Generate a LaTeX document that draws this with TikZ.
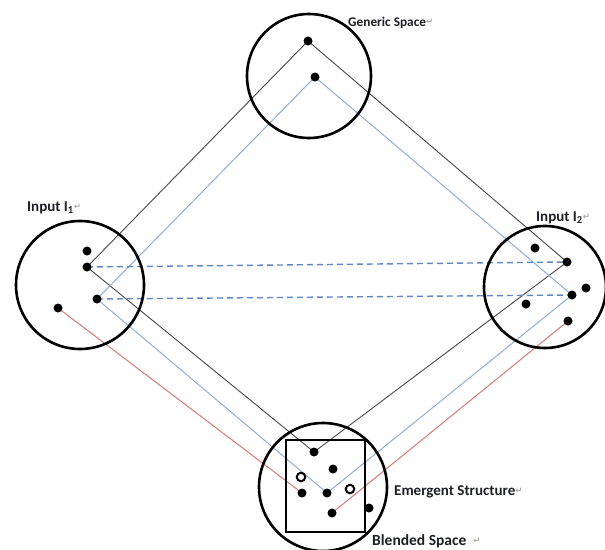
\documentclass[tikz,border=0pt]{standalone}
\usepackage{fontspec}
\setmainfont{Carlito}
\newfontfamily\symfont{DejaVu Sans}
\usetikzlibrary{backgrounds}
\definecolor{lineblk}{RGB}{70,70,70}
\definecolor{lineblue}{RGB}{140,175,215}
\definecolor{dashblue}{RGB}{95,135,195}
\definecolor{linered}{RGB}{215,120,115}
\definecolor{txt}{RGB}{30,30,40}
\newcommand{\pmark}{{\symfont\color{black!35}\fontsize{8.5}{8.5}\selectfont\raisebox{0.25ex}{↵}}}
\tikzset{
  bigcirc/.style={circle,draw=black,line width=2.6pt,inner sep=0pt,minimum size=#1},
  dot/.style={circle,fill=black,inner sep=0pt,minimum size=9pt},
  odot/.style={circle,draw=black,fill=white,line width=2pt,inner sep=0pt,minimum size=8.5pt},
  lbl/.style={anchor=base west,inner sep=0pt,text=txt,font=\fontsize{15}{17}\selectfont\bfseries},
  blk/.style={draw=lineblk,line width=0.9pt},
  blu/.style={draw=lineblue,line width=1pt},
  red/.style={draw=linered,line width=1pt},
  dsh/.style={draw=dashblue,line width=1.4pt,dash pattern=on 6pt off 4pt},
}
\begin{document}
\begin{tikzpicture}[x=1pt,y=-1pt]
\useasboundingbox (0,0) rectangle (605,549);
% circles
\node[bigcirc=124pt] (gen) at (309,76) {};
\node[bigcirc=128pt] (in1) at (80,285) {};
\node[bigcirc=122pt] (in2) at (545,287) {};
\node[bigcirc=128pt] (bl) at (323,487) {};
\node[draw=black,line width=1.2pt,minimum width=79pt,minimum height=92pt,inner sep=0pt] (sq) at (325.5,486) {};
% dots: generic
\node[dot] (g1) at (308,41) {};
\node[dot] (g2) at (315,77) {};
% input 1
\node[dot] (a1) at (87,251) {};
\node[dot] (a2) at (87,267) {};
\node[dot] (a3) at (97,299) {};
\node[dot] (a4) at (58,308) {};
% input 2
\node[dot] (b1) at (535,248) {};
\node[dot] (b2) at (567,262) {};
\node[dot] (b3) at (586,288) {};
\node[dot] (b4) at (572,295) {};
\node[dot] (b5) at (526,304) {};
\node[dot] (b6) at (568,321) {};
% blended
\node[dot] (c1) at (314,452) {};
\node[dot] (c2) at (333,469) {};
\node[odot] (c3) at (301,477) {};
\node[dot] (c4) at (302,493) {};
\node[dot] (c5) at (327,493) {};
\node[odot] (c6) at (350,489) {};
\node[dot] (c7) at (332,513) {};
\node[dot] (c8) at (369,508) {};
% connectors
\begin{scope}[on background layer]
\draw[blk] (g1.center) -- (a2.center) -- (c1.center) -- (b2.center) -- cycle;
\draw[blu] (g2.center) -- (a3.center) -- (c5.center) -- (b4.center) -- cycle;
\draw[red] (a4.center) -- (c4.center);
\draw[red] (b6.center) -- (c7.center);
\draw[dsh] (a2.center) -- (b2.center);
\draw[dsh] (a3.center) -- (b4.center);
\end{scope}
% labels
\node[lbl,font=\fontsize{13.3}{15}\selectfont\bfseries] (lgen) at (348,26) {Generic Space\pmark};
\node[lbl] (lin1) at (27,211) {Input I\textsubscript{1}\pmark};
\node[lbl] (lin2) at (536,221) {Input I\textsubscript{2}\pmark};
\node[lbl] (lem) at (394,495) {Emergent Structure\pmark};
\node[lbl,font=\fontsize{15.5}{17}\selectfont\bfseries] (lbl) at (372,545) {Blended Space\ \ \pmark};
\end{tikzpicture}
\end{document}
